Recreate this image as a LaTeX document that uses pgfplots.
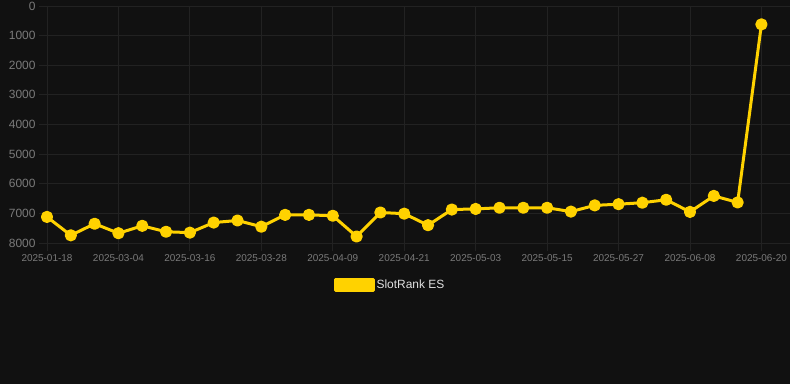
\documentclass[border=0pt]{standalone}
\usepackage{pgfplots}
\pgfplotsset{compat=1.18}
\usepackage{fontspec}
\setmainfont{Liberation Sans}
\definecolor{bg}{HTML}{111111}
\definecolor{gridc}{HTML}{222222}
\definecolor{tickc}{HTML}{7A7A7A}
\definecolor{gold}{HTML}{FFD200}
\definecolor{legc}{HTML}{E0E0E0}
\begin{document}
\begin{tikzpicture}[x=1bp,y=1bp]
\useasboundingbox (0,0) rectangle (790,384);
\fill[bg] (0,0) rectangle (790,384);
\begin{axis}[at={(47bp,141bp)}, anchor=south west, scale only axis,
  width=743bp, height=237bp,
  xmin=0, xmax=31.2, ymin=0, ymax=8000, y dir=reverse,
  xtick={0,3,...,30},
  xticklabels={2025-01-18,2025-03-04,2025-03-16,2025-03-28,2025-04-09,2025-04-21,2025-05-03,2025-05-15,2025-05-27,2025-06-08,2025-06-20},
  ytick={0,1000,...,8000},
  xtick pos=left, ytick pos=left,
  grid=major, major grid style={gridc, line width=0.8bp},
  axis line style={draw=none},
  tick align=outside, major tick length=8bp, tick style={gridc, line width=0.8bp},
  /pgf/number format/assume math mode=true,
  /pgf/number format/1000 sep={},
  yticklabel style={font=\fontsize{12}{14}\selectfont, text=tickc},
  xticklabel style={font=\fontsize{10}{12}\selectfont, text=tickc},
  legend style={at={(0.4616,-0.177)}, anchor=center, fill=none, draw=none,
    text=legc, font=\fontsize{12}{14}\selectfont},
  legend image code/.code={\fill[gold] (0bp,-5.5bp) rectangle (38bp,5.5bp);},
]
\addplot[gold, line width=3bp, line join=round, mark=*, mark size=4.6bp,
  mark options={solid, fill=gold, draw=none}] table {
x y
0 7120
1 7740
2 7350
3 7670
4 7420
5 7620
6 7650
7 7310
8 7240
9 7450
10 7050
11 7050
12 7080
13 7780
14 6970
15 7010
16 7400
17 6870
18 6850
19 6810
20 6810
21 6810
22 6940
23 6730
24 6690
25 6640
26 6540
27 6950
28 6410
29 6630
30 620
};
\addlegendentry{SlotRank ES}
\end{axis}
\end{tikzpicture}
\end{document}
